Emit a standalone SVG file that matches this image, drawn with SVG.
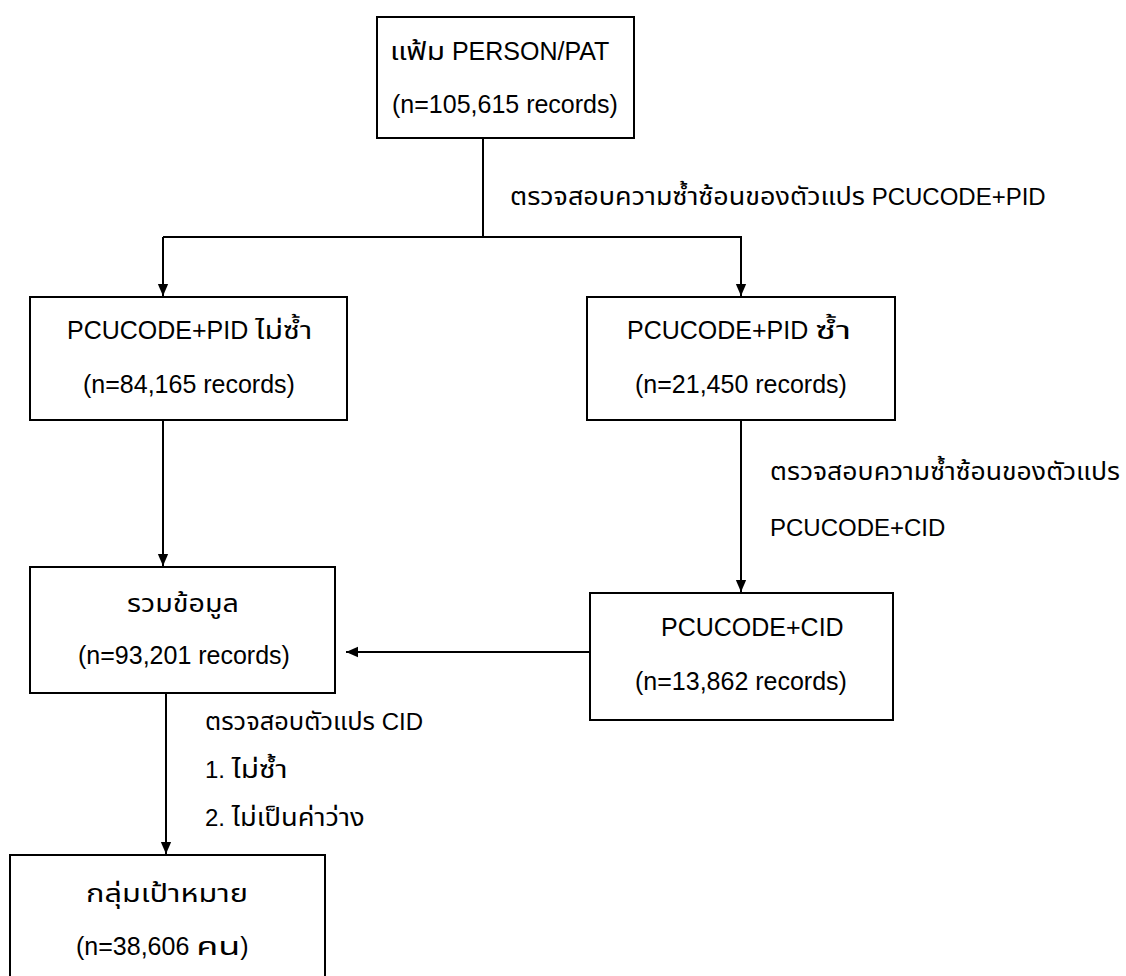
<svg xmlns="http://www.w3.org/2000/svg" width="1126" height="976" viewBox="0 0 1126 976">
<style>
.box{fill:#fff;stroke:#000;stroke-width:2}
.t{font-family:"Liberation Sans","Noto Sans Thai","Noto Sans",sans-serif;font-size:25px;fill:#000}
.l{font-family:"Liberation Sans","Noto Sans Thai","Noto Sans",sans-serif;font-size:24px;fill:#000}
.c{stroke:#000;stroke-width:2;fill:none}
</style>
<defs>
<marker id="ah" markerWidth="12" markerHeight="14" refX="14" refY="6" orient="auto" markerUnits="userSpaceOnUse" viewBox="0 0 14 12">
<path d="M0,0 L14,6 L0,12 Z" fill="#000"/>
</marker>
</defs>
<g id="connectors">
<line class="c" x1="483" y1="138" x2="483" y2="237"/>
<polyline class="c" points="163,237 741,237 741,296" marker-end="url(#ah)"/>
<line class="c" x1="163" y1="237" x2="163" y2="296" marker-end="url(#ah)"/>
<line class="c" x1="163" y1="420" x2="163" y2="566" marker-end="url(#ah)"/>
<line class="c" x1="741" y1="420" x2="741" y2="592" marker-end="url(#ah)"/>
<line class="c" x1="590" y1="652" x2="346" y2="652" marker-end="url(#ah)"/>
<line class="c" x1="166" y1="693" x2="166" y2="854" marker-end="url(#ah)"/>
<text class="l" x="510" y="205"><tspan textLength="355" lengthAdjust="spacingAndGlyphs">ตรวจสอบความซ้ำซ้อนของตัวแปร</tspan> PCUCODE+PID</text>
<text class="l" x="770" y="480"><tspan textLength="350" lengthAdjust="spacingAndGlyphs">ตรวจสอบความซ้ำซ้อนของตัวแปร</tspan></text>
<text class="l" x="770" y="536">PCUCODE+CID</text>
<text class="l" x="205" y="730"><tspan textLength="170" lengthAdjust="spacingAndGlyphs">ตรวจสอบตัวแปร</tspan> CID</text>
<text class="l" x="205" y="778">1. <tspan textLength="56" lengthAdjust="spacingAndGlyphs">ไม่ซ้ำ</tspan></text>
<text class="l" x="205" y="826">2. <tspan textLength="133" lengthAdjust="spacingAndGlyphs">ไม่เป็นค่าว่าง</tspan></text>
</g>
<g id="n1">
<rect class="box" x="377" y="17" width="257" height="121"/>
<text class="t" x="390" y="60"><tspan textLength="55" lengthAdjust="spacingAndGlyphs">แฟ้ม</tspan> PERSON/PAT</text>
<text class="t" x="392" y="113">(n=105,615 records)</text>
</g>
<g id="n2">
<rect class="box" x="30" y="297" width="317" height="123"/>
<text class="t" x="67" y="339">PCUCODE+PID <tspan textLength="57" lengthAdjust="spacingAndGlyphs">ไม่ซ้ำ</tspan></text>
<text class="t" x="83" y="393">(n=84,165 records)</text>
</g>
<g id="n3">
<rect class="box" x="587" y="297" width="308" height="123"/>
<text class="t" x="627" y="339">PCUCODE+PID <tspan textLength="36" lengthAdjust="spacingAndGlyphs">ซ้ำ</tspan></text>
<text class="t" x="635" y="393">(n=21,450 records)</text>
</g>
<g id="n4">
<rect class="box" x="30" y="567" width="305" height="126"/>
<text class="t" x="127" y="612"><tspan textLength="112" lengthAdjust="spacingAndGlyphs">รวมข้อมูล</tspan></text>
<text class="t" x="78" y="664">(n=93,201 records)</text>
</g>
<g id="n5">
<rect class="box" x="590" y="593" width="303" height="127"/>
<text class="t" x="661" y="636">PCUCODE+CID</text>
<text class="t" x="635" y="690">(n=13,862 records)</text>
</g>
<g id="n6">
<rect class="box" x="10" y="855" width="315" height="130"/>
<text class="t" x="86" y="902"><tspan textLength="162" lengthAdjust="spacingAndGlyphs">กลุ่มเป้าหมาย</tspan></text>
<text class="t" x="76" y="955">(n=38,606 <tspan textLength="44" lengthAdjust="spacingAndGlyphs">คน</tspan>)</text>
</g>
</svg>
